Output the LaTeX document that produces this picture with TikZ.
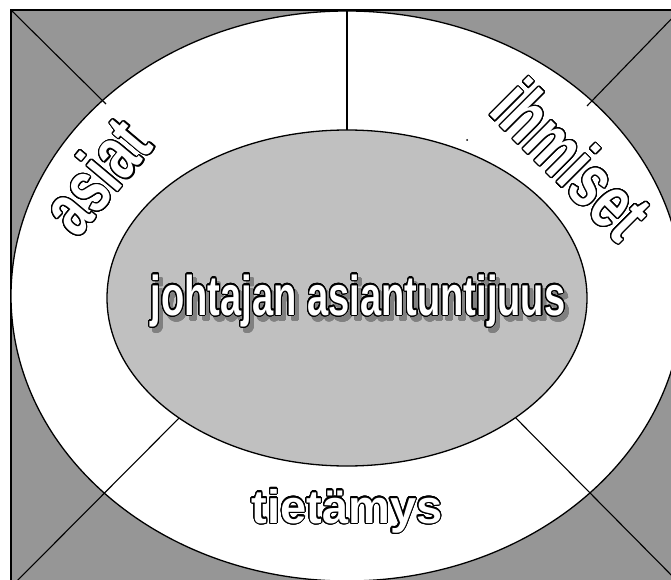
\documentclass[tikz,border=0pt]{standalone}
\usepackage{fontspec}
\setmainfont{Liberation Sans}
\newfontfamily\ringfont[FakeStretch=0.7]{Liberation Sans}
\newfontfamily\corefont[FakeStretch=0.68]{Liberation Sans}
\usepackage{contour}
\contourlength{1.1pt}
\contournumber{32}
\definecolor{cornergray}{HTML}{969696}
\definecolor{coregray}{HTML}{C0C0C0}
\definecolor{shadowgray}{HTML}{808080}
\newcommand{\hollow}[1]{\textcolor{white}{\contour{black}{#1}}}

\begin{document}
\begin{tikzpicture}[
    x=1pt, y=-1pt,
    rim/.style={draw=black, line width=1.3pt},
    divider/.style={draw=black, line width=1.1pt},
    ringword/.style={inner sep=0pt, font=\ringfont\bfseries\fontsize{76}{76}\selectfont},
    baseword/.style={inner sep=0pt, anchor=base, font=\bfseries\fontsize{47}{47}\selectfont},
    coreword/.style={inner sep=0pt, anchor=base, font=\corefont\bfseries\fontsize{56}{56}\selectfont}
]
\useasboundingbox (0,0) rectangle (671,580);

\begin{scope}
\clip (0,0) rectangle (671,580);

% kehys ja harmaat kulmat
\fill[cornergray] (11,10) rectangle (690,595);
\draw[line width=1.6pt] (690,10) -- (11,10) -- (11,595);

\coordinate (tl) at (11,10);
\coordinate (tr) at (680,10);
\coordinate (bl) at (11,587);
\coordinate (br) at (690,594);

% rengas
\filldraw[fill=white, rim] (347,296) ellipse [x radius=336, y radius=285];

% jakoviivat
\draw[divider] (tl) -- (106,104);
\draw[divider] (tr) -- (587,106);
\draw[divider] (bl) -- (200,397);
\draw[divider] (br) -- (500,402);
\draw[divider] (347,11) -- (347,140);

% ydin
\filldraw[fill=coregray, rim] (347,298) ellipse [x radius=240, y radius=168];
\end{scope}

\fill (467,140) circle (1pt);

% tekstit
\node[coreword, text=shadowgray] (coreshadow) at (362,320)
    {\contour{shadowgray}{johtajan asiantuntijuus}};
\node[coreword] (core) at (358,315) {\hollow{johtajan asiantuntijuus}};
\node[ringword, rotate=50] (asiat) at (96,176) {\hollow{asiat}};
\node[ringword, rotate=-45] (ihmiset) at (572,160) {\hollow{ihmiset}};
\node[baseword] (tietamys) at (347,523) {\hollow{tietämys}};

\end{tikzpicture}
\end{document}
